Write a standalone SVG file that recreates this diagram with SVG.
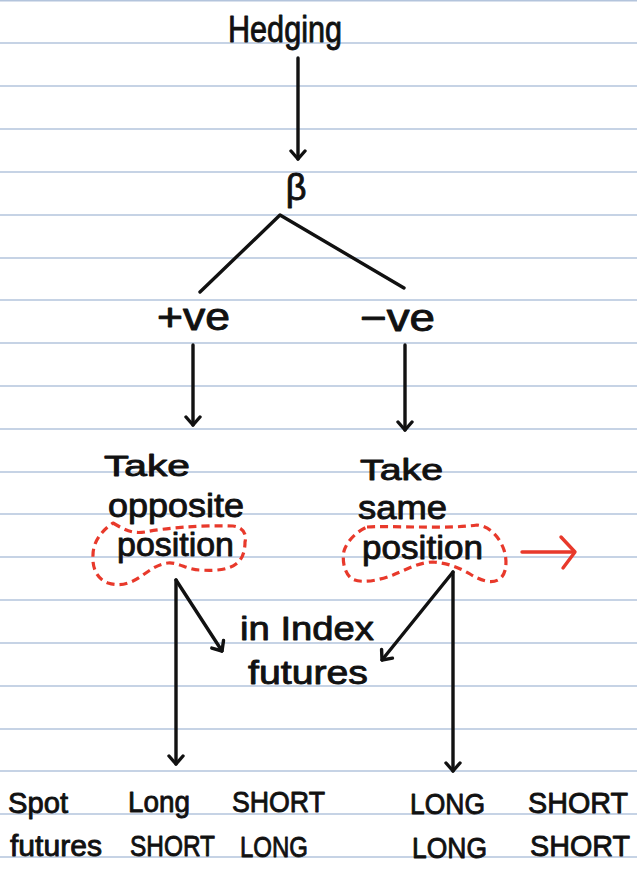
<svg xmlns="http://www.w3.org/2000/svg" width="637" height="879" viewBox="0 0 637 879">
  <defs>
    <style>
      .rule { stroke: #b3c4dc; stroke-width: 1.6; }
      .ink { fill: #111; stroke: #111; stroke-width: 0.9; stroke-linejoin: round; font-family: "Liberation Sans", "DejaVu Sans", sans-serif; }
      .t30 { font-size: 30px; }
      .t34 { font-size: 34px; }
      .t38 { font-size: 38px; }
      .wire { stroke: #111; stroke-width: 3.4; fill: none; stroke-linecap: round; stroke-linejoin: round; }
      .blob { stroke: #e8392b; stroke-width: 3.2; fill: none; stroke-dasharray: 8 5; stroke-linejoin: round; }
      .red { stroke: #e8392b; stroke-width: 3.4; fill: none; stroke-linecap: round; stroke-linejoin: round; }
    </style>
    <marker id="head" markerUnits="userSpaceOnUse" viewBox="-12 -10 14 20" markerWidth="14" markerHeight="20" refX="0" refY="0" orient="auto">
      <path d="M -8 -7 L 0 0 L -8 7" fill="none" stroke="#111" stroke-width="3.4" stroke-linecap="round" stroke-linejoin="round"/>
    </marker>
  </defs>

  <rect width="637" height="879" fill="#ffffff"/>

  <!-- ruled paper -->
  <g id="paper">
    <line class="rule" x1="0" y1="0.8" x2="637" y2="0.8"/>
    <line class="rule" x1="0" y1="43" x2="637" y2="43"/>
    <line class="rule" x1="0" y1="86" x2="637" y2="86"/>
    <line class="rule" x1="0" y1="129" x2="637" y2="129"/>
    <line class="rule" x1="0" y1="172" x2="637" y2="172"/>
    <line class="rule" x1="0" y1="215" x2="637" y2="215"/>
    <line class="rule" x1="0" y1="258" x2="637" y2="258"/>
    <line class="rule" x1="0" y1="300" x2="637" y2="300"/>
    <line class="rule" x1="0" y1="343" x2="637" y2="343"/>
    <line class="rule" x1="0" y1="386" x2="637" y2="386"/>
    <line class="rule" x1="0" y1="429" x2="637" y2="429"/>
    <line class="rule" x1="0" y1="472" x2="637" y2="472"/>
    <line class="rule" x1="0" y1="514" x2="637" y2="514"/>
    <line class="rule" x1="0" y1="557" x2="637" y2="557"/>
    <line class="rule" x1="0" y1="600" x2="637" y2="600"/>
    <line class="rule" x1="0" y1="643" x2="637" y2="643"/>
    <line class="rule" x1="0" y1="686" x2="637" y2="686"/>
    <line class="rule" x1="0" y1="729" x2="637" y2="729"/>
    <line class="rule" x1="0" y1="771" x2="637" y2="771"/>
    <line class="rule" x1="0" y1="814" x2="637" y2="814"/>
    <line class="rule" x1="0" y1="857" x2="637" y2="857"/>
  </g>

  <!-- connectors -->
  <g id="connectors">
    <path class="wire" d="M 298 58 L 298 159" marker-end="url(#head)"/>
    <path class="wire" d="M 200 292 L 280 215 L 404 288"/>
    <path class="wire" d="M 193 345 L 193 425" marker-end="url(#head)"/>
    <path class="wire" d="M 405 345 L 405 430" marker-end="url(#head)"/>
    <path class="wire" d="M 176 580 L 176 764" marker-end="url(#head)"/>
    <path class="wire" d="M 176 580 L 222 651" marker-end="url(#head)"/>
    <path class="wire" d="M 453 572 L 453 771" marker-end="url(#head)"/>
    <path class="wire" d="M 453 572 L 382 660" marker-end="url(#head)"/>
  </g>

  <g id="hedging">
    <text class="ink" font-size="37" x="228" y="42" textLength="114" lengthAdjust="spacingAndGlyphs">Hedging</text>
  </g>

  <g id="beta">
    <text class="ink" font-size="36" x="296" y="200" text-anchor="middle">β</text>
  </g>

  <g id="positive">
    <text class="ink t38" x="157" y="330" textLength="73" lengthAdjust="spacingAndGlyphs">+ve</text>
  </g>

  <g id="negative">
    <text class="ink t38" x="360" y="331" textLength="75" lengthAdjust="spacingAndGlyphs">−ve</text>
  </g>

  <g id="opposite-position">
    <text class="ink t30" x="104" y="476" textLength="86" lengthAdjust="spacingAndGlyphs">Take</text>
    <text class="ink t34" x="108" y="517" textLength="136" lengthAdjust="spacingAndGlyphs">opposite</text>
    <text class="ink t34" x="117" y="556" textLength="117" lengthAdjust="spacingAndGlyphs">position</text>
    <path class="blob" d="M 113 523 C 125 530 132 534 145 532 C 165 528 200 525 233 526 C 243 527 247 534 245 542 C 245 552 242 560 236 564 C 228 570 215 571 200 570 C 188 570 178 562 168 563 C 158 564 150 570 140 577 C 131 583 120 587 108 583 C 97 579 92 568 93 555 C 93 543 100 532 113 523 Z"/>
  </g>

  <g id="same-position">
    <text class="ink t30" x="360" y="480" textLength="83" lengthAdjust="spacingAndGlyphs">Take</text>
    <text class="ink t34" x="358" y="519" textLength="89" lengthAdjust="spacingAndGlyphs">same</text>
    <text class="ink t34" x="362" y="559" textLength="121" lengthAdjust="spacingAndGlyphs">position</text>
    <path class="blob" d="M 367 527 C 385 526 400 527 415 527 C 435 527 455 528 477 525 C 490 526 500 538 504 550 C 508 563 506 576 498 580 C 490 584 480 580 470 574 C 460 568 448 563 433 562 C 420 562 405 570 393 575 C 380 580 362 584 352 579 C 344 573 342 560 344 551 C 347 541 356 532 367 527 Z"/>
    <path class="red" d="M 522 552 L 574 552"/>
    <path class="red" d="M 561 537 L 575 552 L 563 568"/>
  </g>

  <g id="index-futures">
    <text class="ink t34" x="240" y="640" textLength="134" lengthAdjust="spacingAndGlyphs">in Index</text>
    <text class="ink t34" x="248" y="684" textLength="120" lengthAdjust="spacingAndGlyphs">futures</text>
  </g>

  <g id="table">
    <text class="ink t30" x="8" y="813" textLength="60" lengthAdjust="spacingAndGlyphs">Spot</text>
    <text class="ink t30" x="10" y="856" textLength="92" lengthAdjust="spacingAndGlyphs">futures</text>
    <text class="ink t30" x="128" y="812" textLength="62" lengthAdjust="spacingAndGlyphs">Long</text>
    <text class="ink t30" x="130" y="856" textLength="85" lengthAdjust="spacingAndGlyphs">SHORT</text>
    <text class="ink t30" x="232" y="812" textLength="93" lengthAdjust="spacingAndGlyphs">SHORT</text>
    <text class="ink t30" x="240" y="857" textLength="68" lengthAdjust="spacingAndGlyphs">LONG</text>
    <text class="ink t30" x="410" y="814" textLength="75" lengthAdjust="spacingAndGlyphs">LONG</text>
    <text class="ink t30" x="412" y="858" textLength="75" lengthAdjust="spacingAndGlyphs">LONG</text>
    <text class="ink t30" x="528" y="813" textLength="100" lengthAdjust="spacingAndGlyphs">SHORT</text>
    <text class="ink t30" x="530" y="856" textLength="100" lengthAdjust="spacingAndGlyphs">SHORT</text>
  </g>
</svg>
